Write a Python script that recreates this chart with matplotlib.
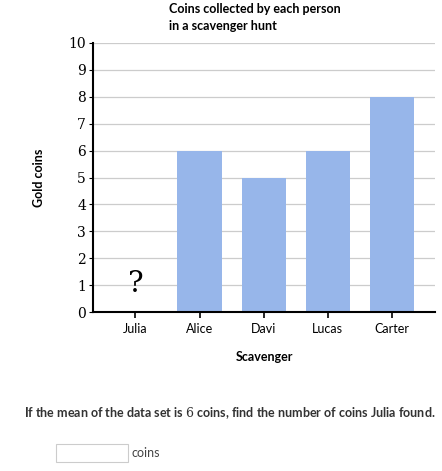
import matplotlib.pyplot as plt
from matplotlib.patches import Rectangle

plt.rcParams["mathtext.fontset"] = "dejavuserif"

names = ["Julia", "Alice", "Davi", "Lucas", "Carter"]
coins = [0, 6, 5, 6, 8]
yticks = list(range(0, 11))

fig = plt.figure(figsize=(4.42, 4.71), dpi=100)
ax = fig.add_axes([93 / 442, 159 / 471, 342 / 442, 269 / 471])

x = list(range(len(names)))
ax.bar(x, coins, width=0.69, color="#97b6ea", zorder=2)
ax.set_xlim(-0.66, 4.67)
ax.set_ylim(0, 10)
ax.set_yticks(yticks)
ax.set_yticklabels([str(t) for t in yticks], family="DejaVu Serif", fontsize=10)
ax.set_xticks(x)
ax.set_xticklabels(names, family="Lato", fontsize=9)
ax.grid(axis="y", color="#cccccc", linewidth=0.9, zorder=0)
for s in ["top", "right"]:
    ax.spines[s].set_visible(False)
ax.spines["left"].set_linewidth(1.5)
ax.spines["bottom"].set_linewidth(1.5)
ax.tick_params(axis="x", length=4, width=1.2, pad=4)
ax.tick_params(axis="y", length=3, width=0.8, pad=2)

# unknown value for Julia
ax.text(0, 1.05, "?", ha="center", va="center", fontsize=21, family="DejaVu Serif")

fig.text(169 / 442, 1 - 3 / 471, "Coins collected by each person\nin a scavenger hunt",
         ha="left", va="top", fontsize=9, family="Lato", weight="bold",
         linespacing=1.5)
fig.text(39 / 442, 1 - 178 / 471, "Gold coins", rotation=90, ha="center", va="center",
         fontsize=9, family="Lato", weight="bold")
fig.text(264 / 442, 1 - 357 / 471, "Scavenger", ha="center", va="center",
         fontsize=9, family="Lato", weight="bold")
fig.text(230 / 442, 1 - 413 / 471,
         "If the mean of the data set is $6$ coins, find the number of coins Julia found.",
         ha="center", va="center", fontsize=9, family="Lato", weight="bold", color="#333333")

fig.add_artist(Rectangle((56 / 442, 1 - 462 / 471), 72 / 442, 18 / 471,
                         transform=fig.transFigure, facecolor="white",
                         edgecolor="#cccccc", linewidth=0.8))
fig.text(131 / 442, 1 - 453 / 471, "coins", ha="left", va="center",
         fontsize=9, family="Lato", color="#444444")

fig.savefig("out.png", dpi=100)
